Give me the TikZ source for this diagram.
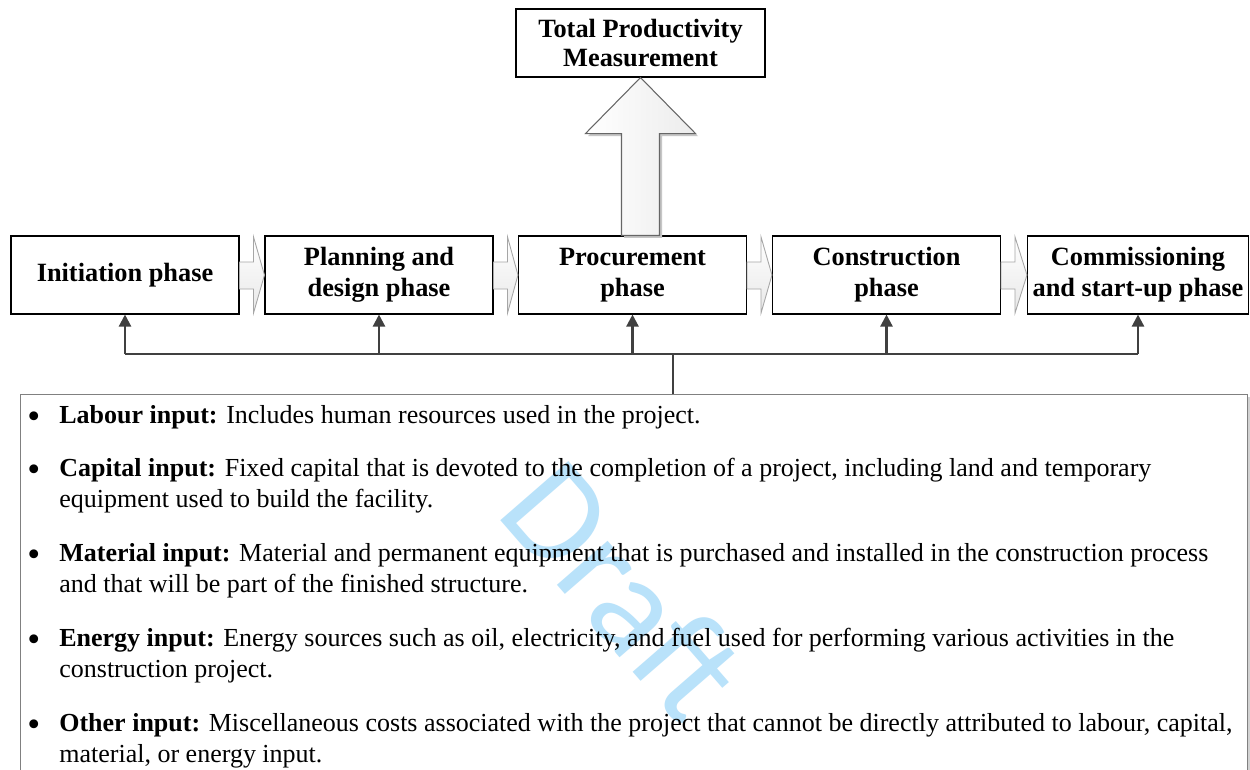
\documentclass[tikz,border=0pt]{standalone}
\usepackage{fontspec}
\setmainfont{Liberation Serif}
\newfontfamily\wmfont{Carlito}
\usetikzlibrary{arrows.meta,calc,shadows}
\newdimen\pxu
\pxu=0.02cm
\definecolor{conncol}{RGB}{64,64,64}
\definecolor{wmblue}{RGB}{185,226,250}
\definecolor{boxgray}{RGB}{128,128,128}
\newcommand{\bul}{\makebox[32\pxu][l]{\raisebox{-0.45ex}{\fontsize{21}{21}\selectfont\textbullet}}}
\begin{document}
\begin{tikzpicture}[x=0.02cm,y=-0.02cm,
  phase/.style={draw=black, line width=0.6pt, fill=white, minimum width=228\pxu, minimum height=78\pxu, inner sep=0pt, align=center,
    font=\fontsize{15}{17.8}\selectfont\bfseries},
  topbox/.style={draw=black, line width=0.6pt, fill=white, minimum width=249\pxu, minimum height=68\pxu, inner sep=0pt, align=center,
    font=\fontsize{15}{17}\selectfont\bfseries},
  blk/.style={draw=gray!70, line width=0.5pt, top color=white, bottom color=gray!18},
  bigarrow/.style={draw=gray!80!black, line width=0.6pt, left color=white, right color=gray!15,
    drop shadow={shadow xshift=0.05cm, shadow yshift=-0.05cm, fill=gray!45, opacity=1}},
  conn/.style={draw=conncol, line width=1.3pt},
  connarrow/.style={conn, -{Triangle[length=0.24cm, width=0.24cm]}},
  listbox/.style={draw=boxgray, line width=0.8pt, fill=white, minimum width=1227\pxu, minimum height=420\pxu, inner sep=0pt, anchor=north west,
    drop shadow={shadow xshift=0.05cm, shadow yshift=-0.05cm, fill=gray!35, opacity=1}},
  item/.style={anchor=base west, inner sep=0pt, font=\fontsize{14.8}{18.2}\selectfont},
  wm/.style={text=wmblue, font=\wmfont\fontsize{80}{80}\selectfont, rotate=-49}
]
\useasboundingbox (0,0) rectangle (1250,769);
\clip (0,0) rectangle (1250,769);
\fill[white] (0,0) rectangle (1250,769);

% top box
\node[topbox] (tpm) at (640.5,43) {Total Productivity\\Measurement};

% phase boxes
\node[phase] (p1) at (125,275) {Initiation phase};
\node[phase] (p2) at (379,275) {Planning and\\design phase};
\node[phase] (p3) at (632.5,275) {Procurement\\phase};
\node[phase] (p4) at (886.5,275) {Construction\\phase};
\node[phase, minimum width=221\pxu] (p5) at (1138,275) {Commissioning\\and start-up phase};

% block arrows between phases
\foreach \a/\b in {p1/p2,p2/p3,p3/p4,p4/p5}{
  \path[blk] ($(\a.east)+(0,-13)$) -- ($(\a.east)+(14,-13)$) -- ($(\a.east)+(14,-38)$) -- (\b.west)
    -- ($(\a.east)+(14,38)$) -- ($(\a.east)+(14,14)$) -- ($(\a.east)+(0,14)$) -- cycle;
}

% big arrow up to total productivity
\path[bigarrow] ($(tpm.south |- p3.north)+(-19,0)$) -- ($(tpm.south)+(-19,56)$) -- ($(tpm.south)+(-55,56)$)
  -- (tpm.south) -- ($(tpm.south)+(55,56)$) -- ($(tpm.south)+(19,56)$) -- ($(tpm.south |- p3.north)+(19,0)$) -- cycle;

% list box
\node[listbox] (tb) at (20,394) {};

% connectors
\coordinate (hub) at (673,354);
\draw[conn] (tb.north -| hub) -- (hub);
\draw[conn] (p1.south |- hub) -- (p5.south |- hub);
\foreach \p in {p1,p2,p3,p4,p5}{
  \draw[connarrow] (\p.south |- hub) -- (\p.south);
}

% watermark
\node[wm] (draft) at (624,590) {Draft};

% list items
\node[item] (i1) at (27,423) {\bul\parbox[t]{1190\pxu}{\textbf{Labour input:} Includes human resources used in the project.}};
\node[item] (i2) at (27,476) {\bul\parbox[t]{1190\pxu}{\textbf{Capital input:} Fixed capital that is devoted to the completion of a project, including land and temporary\\equipment used to build the facility.}};
\node[item] (i3) at (27,561) {\bul\parbox[t]{1190\pxu}{\textbf{Material input:} Material and permanent equipment that is purchased and installed in the construction process\\and that will be part of the finished structure.}};
\node[item] (i4) at (27,646) {\bul\parbox[t]{1190\pxu}{\textbf{Energy input:} Energy sources such as oil, electricity, and fuel used for performing various activities in the\\construction project.}};
\node[item] (i5) at (27,731) {\bul\parbox[t]{1190\pxu}{\textbf{Other input:} Miscellaneous costs associated with the project that cannot be directly attributed to labour, capital,\\material, or energy input.}};
\end{tikzpicture}
\end{document}
